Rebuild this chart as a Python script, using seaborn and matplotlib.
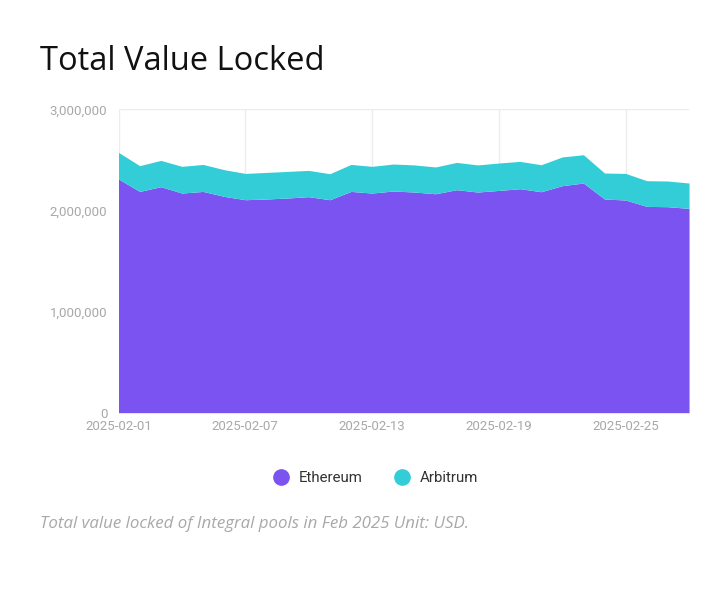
import matplotlib
matplotlib.use("Agg")
import matplotlib.pyplot as plt
import matplotlib.dates as mdates
from matplotlib.lines import Line2D
from matplotlib.ticker import FuncFormatter
import seaborn as sns
import pandas as pd

# Daily TVL, Feb 2025
dates = pd.date_range("2025-02-01", "2025-02-28", freq="D")
ethereum = [
    2311000, 2188000, 2235000, 2172000, 2188000, 2139000, 2106000, 2113000,
    2123000, 2136000, 2106000, 2188000, 2172000, 2192000, 2182000, 2165000,
    2205000, 2182000, 2198000, 2215000, 2185000, 2245000, 2271000, 2113000,
    2103000, 2040000, 2037000, 2020000,
]
arbitrum = [
    263000, 255000, 260000, 264000, 267000, 264000, 260000, 263000,
    263000, 260000, 257000, 267000, 264000, 267000, 268000, 265000,
    270000, 268000, 271000, 270000, 267000, 284000, 280000, 257000,
    263000, 254000, 254000, 251000,
]
series_names = ["Ethereum", "Arbitrum"]
colors = ["#7a53f0", "#33cdd8"]
x_ticks = ["2025-02-01", "2025-02-07", "2025-02-13", "2025-02-19", "2025-02-25"]

df = pd.DataFrame({"date": dates, "Ethereum": ethereum, "Arbitrum": arbitrum})
df["total"] = df["Ethereum"] + df["Arbitrum"]

sns.set_theme(style="white")
plt.rcParams["font.family"] = ["Roboto", "DejaVu Sans"]

fig = plt.figure(figsize=(7.2, 5.98), dpi=100)
ax = fig.add_axes([0.1646, 0.3099, 0.7924, 0.5073])

ax.fill_between(df["date"], 0, df["Ethereum"], color=colors[0], lw=0, zorder=2)
ax.fill_between(df["date"], df["Ethereum"], df["total"], color=colors[1], lw=0, zorder=2)

ax.set_xlim(dates[0], dates[-1])
ax.set_ylim(0, 3000000)
ax.set_yticks([0, 1000000, 2000000, 3000000])
ax.yaxis.set_major_formatter(FuncFormatter(lambda v, p: f"{int(v):,}"))
ax.set_xticks(pd.to_datetime(x_ticks))
ax.xaxis.set_major_formatter(mdates.DateFormatter("%Y-%m-%d"))
ax.tick_params(axis="both", colors="#a8a8a8", labelsize=9.5, length=0, pad=5)
ax.tick_params(axis="y", pad=8)
ax.grid(True, color="#ececec", lw=1, zorder=0)
for s in ax.spines.values():
    s.set_visible(False)
ax.set_xlabel("")
ax.set_ylabel("")

fig.text(40 / 720, 1 - 61 / 598, "Total Value Locked", fontsize=23.5,
         family=["Open Sans", "DejaVu Sans"], color="#111111", va="center", ha="left")

handles = [Line2D([], [], marker="o", ls="", markersize=11, color=c) for c in colors]
fig.legend(handles, series_names, loc="center", bbox_to_anchor=(372 / 720, 1 - 478 / 598),
           ncol=2, frameon=False, fontsize=10.8, labelcolor="#333333",
           handletextpad=0.2, columnspacing=1.6)

fig.text(40 / 720, 1 - 524 / 598, "Total value locked of Integral pools in Feb 2025 Unit: USD.",
         fontsize=12.2, style="italic", family=["Open Sans", "DejaVu Sans"],
         color="#a8a8a8", va="center", ha="left")

fig.savefig("out.png", dpi=100)
